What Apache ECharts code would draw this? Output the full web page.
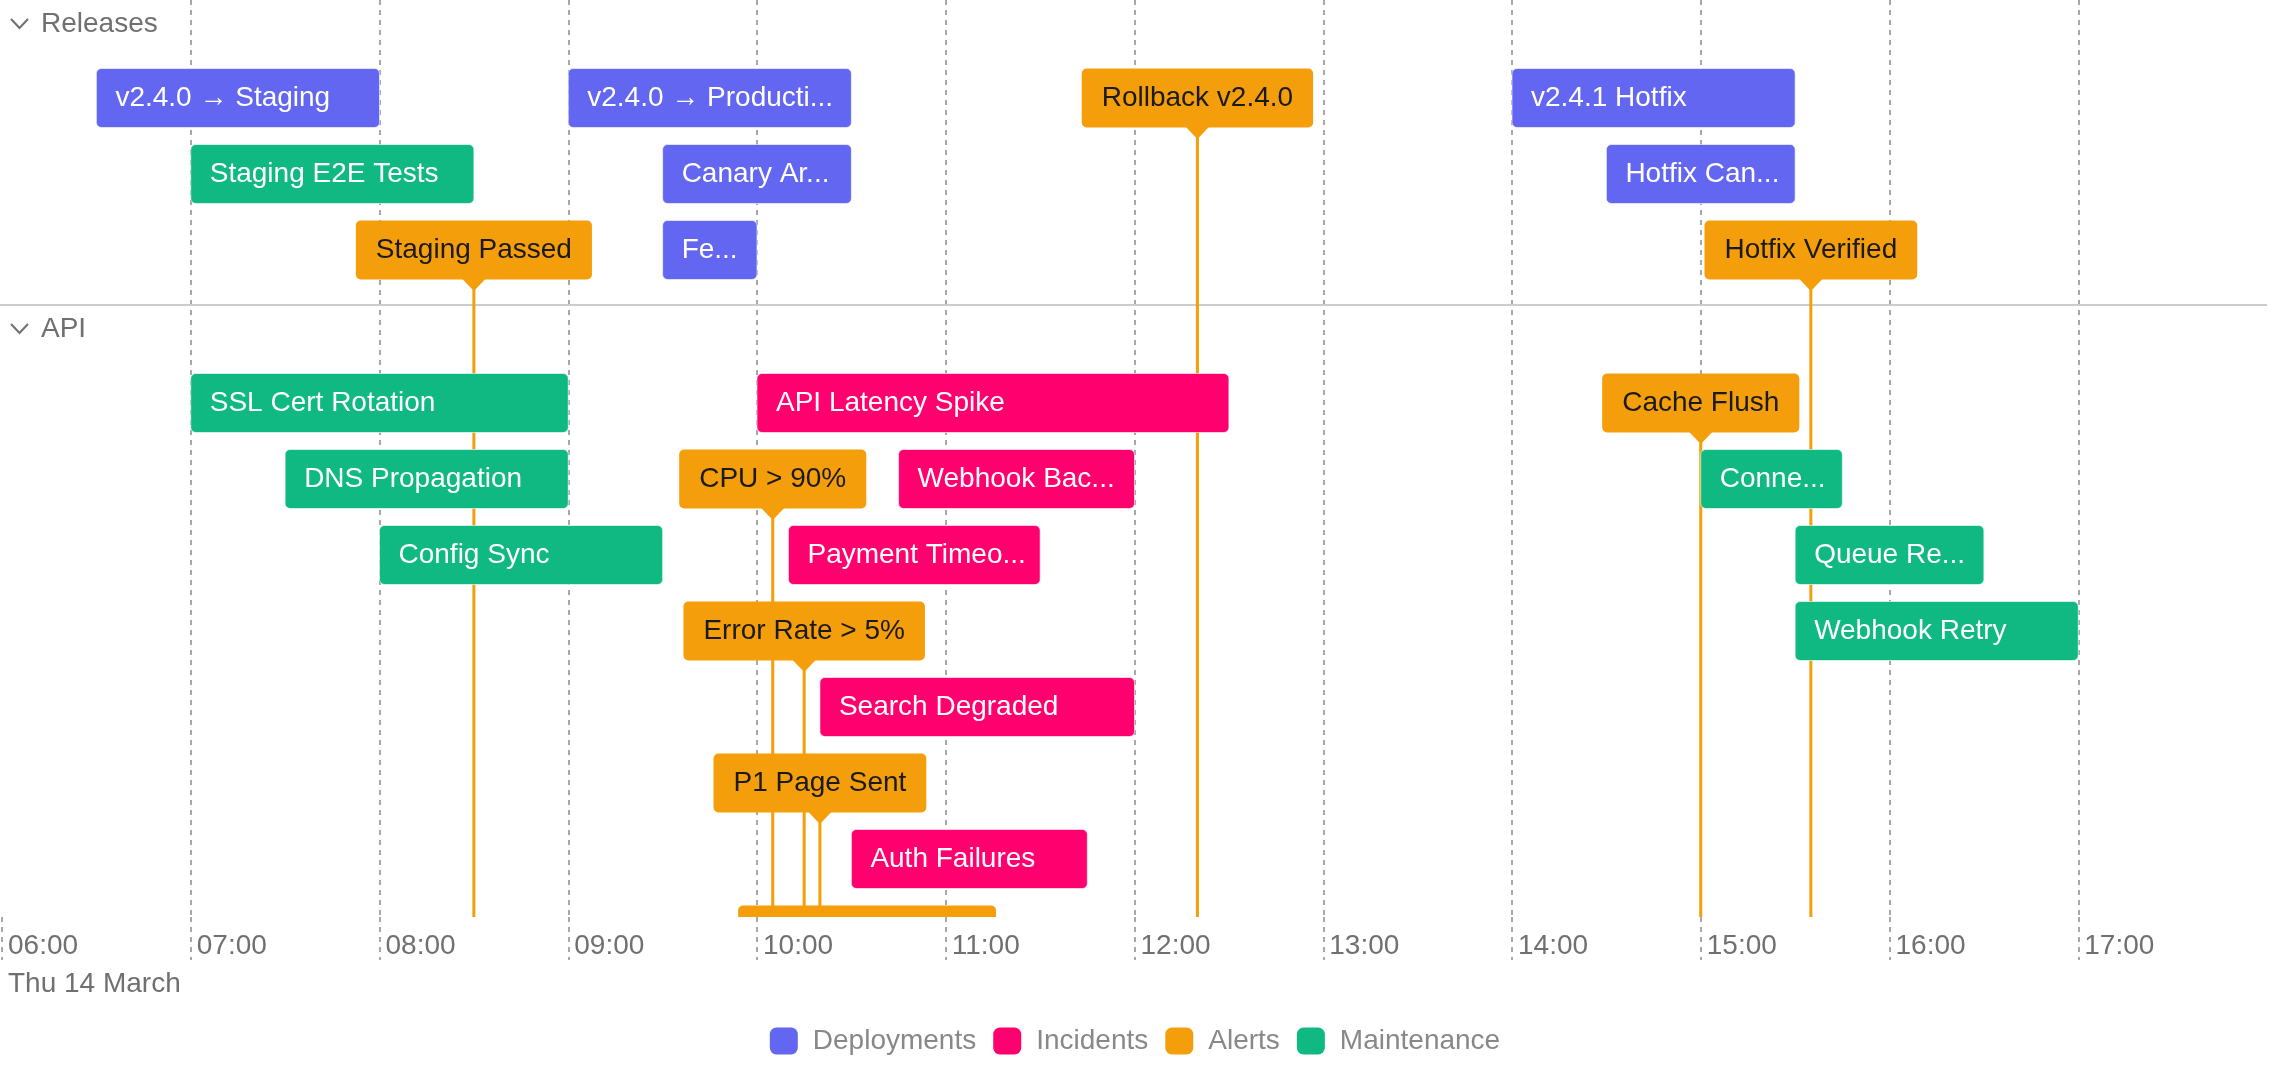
<!DOCTYPE html>
<html>
<head>
<meta charset="utf-8">
<title>Releases / API timeline</title>
<script src="https://cdn.jsdelivr.net/npm/echarts@6/dist/echarts.min.js"></script>
<style>
  html, body { margin: 0; padding: 0; background: #ffffff; }
  #chart { width: 2270px; height: 1078px; }
</style>
</head>
<body>
<div id="chart"></div>
<script>
// ---- data ----
const DAY_LABEL = 'Thu 14 March';
const groupNames = ['Releases', 'API'];
const groupLanes = [3, 8];

const deployNames = ['v2.4.0 → Staging', 'v2.4.0 → Production', 'Canary Arm 10%', 'Feature Flags', 'v2.4.1 Hotfix', 'Hotfix Canary'];
const deployGroup = [0, 0, 0, 0, 0, 0];
const deployLane = [0, 0, 1, 2, 0, 1];
const deployStart = ['06:30', '09:00', '09:30', '09:30', '14:00', '14:30'];
const deployEnd = ['08:00', '10:30', '10:30', '10:00', '15:30', '15:30'];

const incidentNames = ['API Latency Spike', 'Webhook Backlog', 'Payment Timeouts', 'Search Degraded', 'Auth Failures'];
const incidentGroup = [1, 1, 1, 1, 1];
const incidentLane = [0, 1, 2, 4, 6];
const incidentStart = ['10:00', '10:45', '10:10', '10:20', '10:30'];
const incidentEnd = ['12:30', '12:00', '11:30', '12:00', '11:45'];

const alertNames = ['Staging Passed', 'Rollback v2.4.0', 'Hotfix Verified', 'Cache Flush', 'CPU > 90%', 'Error Rate > 5%', 'P1 Page Sent', 'Incident Declared'];
const alertGroup = [0, 0, 0, 1, 1, 1, 1, 1];
const alertLane = [2, 0, 2, 0, 1, 3, 5, 7];
const alertTime = ['08:30', '12:20', '15:35', '15:00', '10:05', '10:15', '10:20', '10:35'];

const maintNames = ['Staging E2E Tests', 'SSL Cert Rotation', 'DNS Propagation', 'Config Sync', 'Connection Drain', 'Queue Rebalance', 'Webhook Retry'];
const maintGroup = [0, 1, 1, 1, 1, 1, 1];
const maintLane = [1, 0, 1, 2, 1, 2, 3];
const maintStart = ['07:00', '07:00', '07:30', '08:00', '15:00', '15:30', '15:30'];
const maintEnd = ['08:30', '09:00', '09:00', '09:30', '15:45', '16:30', '17:00'];

const axisStart = '06:00';
const axisEnd = '18:00';

// ---- layout ----
const PLOT_H = 917;
const HEADER = 68.5;   // group top -> first bar top
const ROW = 76;        // lane pitch
const GROUP_PAD = 8.5;
const BAR_H = 59;
const PAD_X = 19;
const PAD_R = 13;
const FONT = '"Liberation Sans", Arial, Helvetica, sans-serif';
const FS = 28;
const GRAY = '#707070';
const GRID_LINE = { color: '#8c8c8c', width: 1.5, type: [5, 5] };

const COLORS = {
  Deployments: '#6366f1',
  Incidents: '#ff006e',
  Alerts: '#f59e0b',
  Maintenance: '#10b981'
};

function toMin(s) {
  const p = s.split(':');
  return (+p[0]) * 60 + (+p[1]);
}

// label truncation measured with the same font as the chart
const measureCtx = document.createElement('canvas').getContext('2d');
measureCtx.font = FS + 'px ' + FONT;
function fitText(s, maxW) {
  if (measureCtx.measureText(s).width <= maxW) return s;
  let n = s.length;
  while (n > 0 && measureCtx.measureText(s.slice(0, n) + '...').width > maxW) n--;
  return s.slice(0, n) + '...';
}

// group tops along the (inverted) y axis
const groupTop = [];
let acc = 0;
groupNames.forEach(function (g, i) {
  groupTop.push(acc);
  acc += HEADER + groupLanes[i] * ROW + GROUP_PAD;
});
function laneTop(g, lane) {
  return groupTop[g] + HEADER + lane * ROW;
}

function rangeData(starts, ends, groups, lanes) {
  return starts.map(function (s, i) {
    return [toMin(s), toMin(ends[i]), laneTop(groups[i], lanes[i])];
  });
}
function pointData(times, groups, lanes) {
  return times.map(function (t, i) {
    return [toMin(t), laneTop(groups[i], lanes[i])];
  });
}

function barRenderer(names, textColor) {
  return function (params, api) {
    const p = api.coord([api.value(0), api.value(2)]);
    const w = api.size([api.value(1) - api.value(0), 0])[0];
    const color = api.visual('color');
    return {
      type: 'group',
      children: [
        {
          type: 'rect',
          shape: { x: p[0], y: p[1], width: w, height: BAR_H, r: 5 },
          style: { fill: color, stroke: 'rgba(255,255,255,0.6)', lineWidth: 1 }
        },
        {
          type: 'text',
          style: {
            x: p[0] + PAD_X,
            y: p[1] + BAR_H / 2,
            text: fitText(names[params.dataIndex], w - PAD_X - PAD_R),
            align: 'left',
            verticalAlign: 'middle',
            fontSize: FS,
            fontFamily: FONT,
            fill: textColor
          }
        }
      ]
    };
  };
}

function milestoneRenderer(names) {
  return function (params, api) {
    const p = api.coord([api.value(0), api.value(1)]);
    const color = api.visual('color');
    const cx = p[0];
    const yb = p[1] + BAR_H;
    return {
      type: 'group',
      children: [
        {
          type: 'text',
          style: {
            x: cx,
            y: p[1] + BAR_H / 2,
            text: names[params.dataIndex],
            align: 'center',
            verticalAlign: 'middle',
            fontSize: FS,
            fontFamily: FONT,
            fill: '#1a1a1a',
            backgroundColor: color,
            borderRadius: 5,
            padding: [0, 20],
            lineHeight: BAR_H
          }
        },
        {
          type: 'polygon',
          shape: { points: [[cx - 12, yb - 1], [cx + 12, yb - 1], [cx + 1.5, yb + 10], [cx - 1.5, yb + 10]] },
          style: { fill: color }
        }
      ]
    };
  };
}

function stemRenderer(params, api) {
  const p = api.coord([api.value(0), api.value(1)]);
  const bottom = params.coordSys.y + params.coordSys.height;
  return {
    type: 'line',
    shape: { x1: p[0], y1: p[1] + BAR_H, x2: p[0], y2: bottom },
    style: { stroke: api.visual('color'), lineWidth: 3 }
  };
}

function groupRenderer(params, api) {
  const i = params.dataIndex;
  const y = api.coord([api.value(0), api.value(1)])[1];
  const cs = params.coordSys;
  const children = [
    {
      type: 'polyline',
      shape: { points: [[cs.x + 9, y + 19], [cs.x + 17.5, y + 28], [cs.x + 26, y + 19]] },
      style: { stroke: GRAY, lineWidth: 2, fill: null }
    },
    {
      type: 'text',
      style: {
        x: cs.x + 39, y: y + 24, text: groupNames[i],
        align: 'left', verticalAlign: 'middle',
        fontSize: FS, fontFamily: FONT, fill: GRAY
      }
    }
  ];
  if (i > 0) {
    children.push({
      type: 'line',
      shape: { x1: 0, y1: y, x2: cs.x + cs.width, y2: y },
      style: { stroke: '#cccccc', lineWidth: 2 }
    });
  }
  return { type: 'group', children: children };
}

const chart = echarts.init(document.getElementById('chart'));

const option = {
  animation: false,
  backgroundColor: '#ffffff',
  textStyle: { fontFamily: FONT },
  grid: { left: 2, right: 0, top: 0, height: PLOT_H },
  legend: {
    data: ['Deployments', 'Incidents', 'Alerts', 'Maintenance'],
    left: 'center',
    top: 1022,
    icon: 'roundRect',
    itemWidth: 28,
    itemHeight: 27,
    itemGap: 17,
    textStyle: { fontSize: FS, color: '#888888', fontFamily: FONT, padding: [0, 0, 0, 10] }
  },
  xAxis: [
    {
      type: 'value',
      min: toMin(axisStart),
      max: toMin(axisEnd),
      interval: 60,
      position: 'bottom',
      axisLine: { show: false, onZero: false },
      axisTick: { show: true, length: 43, lineStyle: GRID_LINE },
      splitLine: { show: true, showMinLine: false, showMaxLine: false, lineStyle: GRID_LINE },
      axisLabel: {
        formatter: function (v) {
          const h = Math.floor(v / 60);
          return (h < 10 ? '0' : '') + h + ':00';
        },
        showMaxLabel: false,
        align: 'left',
        padding: [0, 0, 0, 6],
        margin: 15,
        fontSize: FS,
        fontFamily: FONT,
        color: GRAY
      }
    },
    {
      type: 'value',
      min: toMin(axisStart),
      max: toMin(axisEnd),
      interval: 720,
      position: 'bottom',
      offset: 38,
      axisLine: { show: false, onZero: false },
      axisTick: { show: false },
      splitLine: { show: false },
      axisLabel: {
        formatter: function (v) { return v === toMin(axisStart) ? DAY_LABEL : ''; },
        align: 'left',
        padding: [0, 0, 0, 6],
        margin: 15,
        fontSize: FS,
        fontFamily: FONT,
        color: GRAY
      }
    }
  ],
  yAxis: { type: 'value', min: 0, max: PLOT_H, inverse: true, show: false },
  series: [
    {
      name: 'groups',
      type: 'custom',
      z: 0,
      renderItem: groupRenderer,
      data: groupTop.map(function (t) { return [toMin(axisStart), t]; })
    },
    {
      name: 'Alerts',
      type: 'custom',
      z: 1,
      clip: true,
      itemStyle: { color: COLORS.Alerts },
      renderItem: stemRenderer,
      data: pointData(alertTime, alertGroup, alertLane)
    },
    {
      name: 'Deployments',
      type: 'custom',
      z: 2,
      clip: true,
      itemStyle: { color: COLORS.Deployments },
      renderItem: barRenderer(deployNames, '#ffffff'),
      data: rangeData(deployStart, deployEnd, deployGroup, deployLane)
    },
    {
      name: 'Incidents',
      type: 'custom',
      z: 2,
      clip: true,
      itemStyle: { color: COLORS.Incidents },
      renderItem: barRenderer(incidentNames, '#ffffff'),
      data: rangeData(incidentStart, incidentEnd, incidentGroup, incidentLane)
    },
    {
      name: 'Alerts',
      type: 'custom',
      z: 2,
      clip: true,
      itemStyle: { color: COLORS.Alerts },
      renderItem: milestoneRenderer(alertNames),
      data: pointData(alertTime, alertGroup, alertLane)
    },
    {
      name: 'Maintenance',
      type: 'custom',
      z: 2,
      clip: true,
      itemStyle: { color: COLORS.Maintenance },
      renderItem: barRenderer(maintNames, '#ffffff'),
      data: rangeData(maintStart, maintEnd, maintGroup, maintLane)
    }
  ]
};

chart.setOption(option);
</script>
</body>
</html>
